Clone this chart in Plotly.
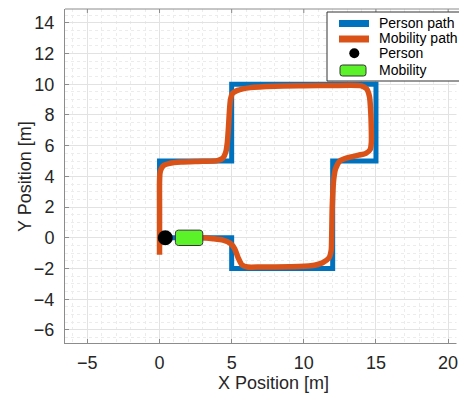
import numpy as np
import plotly.graph_objects as go

# Reference route walked by the person (corner points, metres)
person_path_x = [0, 0, 5, 5, 15, 15, 12, 12, 5, 5, 0]
person_path_y = [0, 5, 5, 10, 10, 5, 5, -2, -2, 0, 0]

# Trajectory followed by the mobility device (metres)
mobility_path_x = [0.0, 0.0, 0.0, 0.0, 0.03, 0.12, 0.3, 0.7, 1.5, 3.0, 4.0, 4.4, 4.6, 4.7,
                   4.78, 4.85, 4.92, 5.05, 5.4, 6.3, 8.0, 10.0, 12.0, 14.0, 14.35, 14.55,
                   14.62, 14.68, 14.68, 14.6, 14.3, 13.8, 13.0, 12.5, 12.2, 12.07, 11.97,
                   11.93, 11.9, 11.75, 11.3, 10.5, 9.0, 7.0, 6.1, 5.7, 5.45, 5.2, 4.9,
                   4.4, 3.7, 3.0, 2.05]
mobility_path_y = [-1.1, 0.0, 2.0, 3.6, 4.2, 4.5, 4.72, 4.85, 4.93, 4.98, 5.03, 5.2, 5.6, 6.2,
                   7.2, 8.3, 9.0, 9.4, 9.6, 9.78, 9.87, 9.9, 9.92, 9.9, 9.7, 9.2,
                   8.5, 7.0, 6.2, 5.75, 5.5, 5.38, 5.2, 5.0, 4.5, 3.8, 2.0,
                   0.0, -0.8, -1.3, -1.62, -1.82, -1.88, -1.9, -1.9, -1.75, -1.3, -0.7, -0.35,
                   -0.15, -0.06, 0.0, 0.0]

# Current positions
person_x = [0.4]
person_y = [0.0]
mobility_x = [2.05]
mobility_y = [0.0]
mobility_w = 1.9
mobility_h = 1.0

x_ticks = [-5, 0, 5, 10, 15, 20]
y_ticks = [-6, -4, -2, 0, 2, 4, 6, 8, 10, 12, 14]

BLUE = "#0072BD"
ORANGE = "#D95319"
GREEN = "#5CF22A"
TEXT = "#262626"
AXIS = "#8c8c8c"
FONT = "Liberation Sans, Arial, sans-serif"

W, H = 459, 394
L, T, B = 65, 9, 51
R = 0


def rounded_rect(cx, cy, w, h, rx, ry, n=8):
    xs, ys = [], []
    corners = [(cx + w / 2 - rx, cy + h / 2 - ry, 0),
               (cx - w / 2 + rx, cy + h / 2 - ry, 90),
               (cx - w / 2 + rx, cy - h / 2 + ry, 180),
               (cx + w / 2 - rx, cy - h / 2 + ry, 270)]
    for x0, y0, a0 in corners:
        for a in np.linspace(a0, a0 + 90, n):
            t = np.radians(a)
            xs.append(x0 + rx * np.cos(t))
            ys.append(y0 + ry * np.sin(t))
    xs.append(xs[0])
    ys.append(ys[0])
    return xs, ys


fig = go.Figure()

fig.add_trace(go.Scatter(x=person_path_x, y=person_path_y, mode="lines",
                         name="Person path", line=dict(color=BLUE, width=5),
                         showlegend=False))
fig.add_trace(go.Scatter(x=mobility_path_x, y=mobility_path_y, mode="lines",
                         name="Mobility path",
                         line=dict(color=ORANGE, width=5.5, shape="spline", smoothing=0.6),
                         showlegend=False))
fig.add_trace(go.Scatter(x=person_x, y=person_y, mode="markers", name="Person",
                         marker=dict(color="black", size=15, line=dict(width=0)),
                         showlegend=False))
bx, by = rounded_rect(mobility_x[0], mobility_y[0], mobility_w, mobility_h, 0.2, 0.19)
fig.add_trace(go.Scatter(x=bx, y=by, mode="lines", fill="toself", fillcolor=GREEN,
                         name="Mobility", line=dict(color="#333333", width=1),
                         showlegend=False))

x_range = [-6.55, -6.55 + (W - L - R) / 14.43]
y_range = [-6.85, 14.9]

axis_common = dict(
    showline=True, linecolor=AXIS, linewidth=1,
    ticks="inside", ticklen=4, tickcolor=AXIS,
    showgrid=True, gridcolor="#e2e2e2", gridwidth=1,
    zeroline=False, tickfont=dict(family=FONT, size=18, color=TEXT),
)

fig.update_layout(
    width=W, height=H,
    margin=dict(l=L, r=R, t=T, b=B, autoexpand=False),
    paper_bgcolor="white", plot_bgcolor="white",
    xaxis=dict(range=x_range, tickvals=x_ticks, mirror=False,
               minor=dict(dtick=1, showgrid=True, gridcolor="#ececec", griddash="dot"),
               ticklabelstandoff=3, **axis_common),
    yaxis=dict(range=y_range, tickvals=y_ticks, mirror=False,
               minor=dict(dtick=0.5, showgrid=True, gridcolor="#ececec", griddash="dot"),
               ticklabelstandoff=6, **axis_common),
    showlegend=False,
)


def px(xp):
    return (xp - L) / (W - L - R)


def py(yp):
    return (H - B - yp) / (H - B - T)


annotations = [
    dict(text="X Position [m]", x=px(273), y=py(383), xref="paper", yref="paper",
         showarrow=False, xanchor="center", yanchor="middle",
         font=dict(family=FONT, size=18, color=TEXT)),
    dict(text="Y Position [m]", x=px(25), y=py(177), xref="paper", yref="paper",
         showarrow=False, xanchor="center", yanchor="middle", textangle=-90,
         font=dict(family=FONT, size=18, color=TEXT)),
]

# the axes box continues past the right edge of the page: keep that edge open
shapes = [dict(type="line", xref="paper", yref="paper", x0=px(W - 1), x1=px(W - 1),
               y0=-0.01, y1=0.999, line=dict(color="white", width=3), layer="above")]
# upper border of the axes box with its tick marks
shapes.append(dict(type="line", xref="paper", yref="paper", x0=0, x1=1.05, y0=1, y1=1,
                   line=dict(color=AXIS, width=1), layer="above"))
for xt in x_ticks:
    shapes.append(dict(type="line", xref="x", yref="paper", x0=xt, x1=xt,
                       y0=1, y1=1 - 4 / (H - B - T), line=dict(color=AXIS, width=1),
                       layer="above"))

shapes += [
    # legend frame
    dict(type="rect", xref="paper", yref="paper", x0=px(327), x1=px(475),
         y0=py(81), y1=py(12), line=dict(color="#333333", width=1), fillcolor="white",
         layer="above"),
    dict(type="line", xref="paper", yref="paper", x0=px(339), x1=px(369),
         y0=py(23.5), y1=py(23.5), line=dict(color=BLUE, width=7), layer="above"),
    dict(type="line", xref="paper", yref="paper", x0=px(339), x1=px(369),
         y0=py(39), y1=py(39), line=dict(color=ORANGE, width=7), layer="above"),
    dict(type="circle", xref="paper", yref="paper", x0=px(349.3), x1=px(359.3),
         y0=py(58.3), y1=py(48.3), line=dict(width=0), fillcolor="black", layer="above"),
]
lx0, lx1, ly0, ly1, rr = 340, 366, 65, 76, 2.5
path = (f"M {lx0 + rr},{ly0} L {lx1 - rr},{ly0} Q {lx1},{ly0} {lx1},{ly0 + rr} "
        f"L {lx1},{ly1 - rr} Q {lx1},{ly1} {lx1 - rr},{ly1} L {lx0 + rr},{ly1} "
        f"Q {lx0},{ly1} {lx0},{ly1 - rr} L {lx0},{ly0 + rr} Q {lx0},{ly0} {lx0 + rr},{ly0} Z")
shapes.append(dict(type="path", xref="paper", yref="paper", layer="above",
                   path=" ".join(
                       (f"{px(float(a.split(',')[0]))},{py(float(a.split(',')[1]))}"
                        if "," in a else a) for a in path.split()),
                   fillcolor=GREEN, line=dict(color="#333333", width=1)))

legend_labels = ["Person path", "Mobility path", "Person", "Mobility"]
legend_rows = [22.7, 38.3, 53.3, 70]
for lab, yy in zip(legend_labels, legend_rows):
    annotations.append(dict(text=lab, x=px(377), y=py(yy), xref="paper", yref="paper",
                            showarrow=False, xanchor="left", yanchor="middle",
                            font=dict(family=FONT, size=14, color="black")))

fig.update_layout(annotations=annotations, shapes=shapes)

fig.write_html("out.html", config={"displayModeBar": False},
               default_width="459px", default_height="394px")
